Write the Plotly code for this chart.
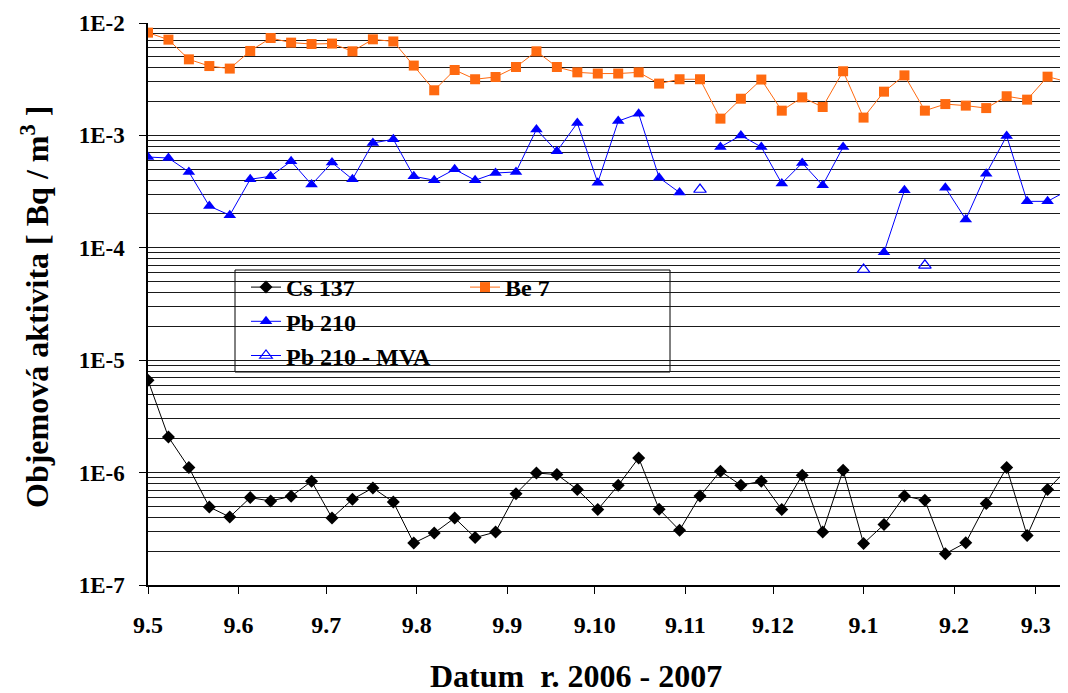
import plotly.graph_objects as go

# ---- data ----
dates = [
    "2006-05-09", "2006-05-16", "2006-05-23", "2006-05-30",
    "2006-06-06", "2006-06-13", "2006-06-20", "2006-06-27",
    "2006-07-04", "2006-07-11", "2006-07-18", "2006-07-25",
    "2006-08-01", "2006-08-08", "2006-08-15", "2006-08-22", "2006-08-29",
    "2006-09-05", "2006-09-12", "2006-09-19", "2006-09-26",
    "2006-10-03", "2006-10-10", "2006-10-17", "2006-10-24", "2006-10-31",
    "2006-11-07", "2006-11-14", "2006-11-21", "2006-11-28",
    "2006-12-05", "2006-12-12", "2006-12-19", "2006-12-26",
    "2007-01-02", "2007-01-09", "2007-01-16", "2007-01-23", "2007-01-30",
    "2007-02-06", "2007-02-13", "2007-02-20", "2007-02-27",
    "2007-03-06", "2007-03-13", "2007-03-20",
]

cs137 = [
    6.63e-6, 2.07e-6, 1.11e-6, 4.94e-7, 4.03e-7, 5.99e-7, 5.59e-7, 6.15e-7,
    8.37e-7, 3.95e-7, 5.79e-7, 7.30e-7, 5.47e-7, 2.36e-7, 2.90e-7, 3.95e-7,
    2.64e-7, 2.96e-7, 6.50e-7, 9.92e-7, 9.60e-7, 7.06e-7, 4.69e-7, 7.71e-7,
    1.35e-6, 4.72e-7, 3.07e-7, 6.19e-7, 1.03e-6, 7.71e-7, 8.37e-7, 4.69e-7,
    9.46e-7, 2.96e-7, 1.05e-6, 2.34e-7, 3.45e-7, 6.19e-7, 5.67e-7, 1.90e-7,
    2.38e-7, 5.30e-7, 1.11e-6, 2.75e-7, 7.06e-7, 1.09e-6,
]

be7 = [
    8.21e-3, 7.11e-3, 4.75e-3, 4.14e-3, 3.93e-3, 5.64e-3, 7.35e-3, 6.69e-3,
    6.50e-3, 6.56e-3, 5.60e-3, 7.16e-3, 6.85e-3, 4.18e-3, 2.52e-3, 3.82e-3,
    3.16e-3, 3.31e-3, 4.06e-3, 5.60e-3, 4.06e-3, 3.64e-3, 3.55e-3, 3.55e-3,
    3.64e-3, 2.89e-3, 3.16e-3, 3.16e-3, 1.41e-3, 2.12e-3, 3.14e-3, 1.66e-3,
    2.18e-3, 1.79e-3, 3.72e-3, 1.44e-3, 2.45e-3, 3.42e-3, 1.66e-3, 1.90e-3,
    1.84e-3, 1.75e-3, 2.23e-3, 2.08e-3, 3.33e-3, 2.99e-3,
]

pb210 = [
    6.42e-4, 6.29e-4, 4.73e-4, 2.35e-4, 1.95e-4, 4.07e-4, 4.33e-4, 5.89e-4,
    3.65e-4, 5.73e-4, 4.07e-4, 8.56e-4, 9.23e-4, 4.33e-4, 3.99e-4, 4.99e-4,
    3.99e-4, 4.63e-4, 4.73e-4, 1.13e-3, 7.22e-4, 1.29e-3, 3.80e-4, 1.34e-3,
    1.56e-3, 4.21e-4, 3.10e-4, None, 7.88e-4, 1.00e-3, 7.88e-4, 3.73e-4,
    5.68e-4, 3.60e-4, 7.88e-4, None, 9.12e-5, 3.25e-4, None, 3.43e-4,
    1.79e-4, 4.57e-4, 9.88e-4, 2.59e-4, 2.59e-4, 3.25e-4,
]

pb210_mva = [None] * 27 + [3.30e-4] + [None] * 7 + [6.41e-5] + [None, None] + [6.99e-5] + [None] * 7

cs137_mva = []  # no values plotted, legend only

tick_dates = ["2006-05-09", "2006-06-09", "2006-07-09", "2006-08-09", "2006-09-09",
              "2006-10-09", "2006-11-09", "2006-12-09", "2007-01-09", "2007-02-09",
              "2007-03-09"]
tick_labels = ["9.5", "9.6", "9.7", "9.8", "9.9", "9.10", "9.11", "9.12", "9.1", "9.2", "9.3"]

y_tickvals = [1e-7, 1e-6, 1e-5, 1e-4, 1e-3, 1e-2]
y_ticklabels = ["1E-7", "1E-6", "1E-5", "1E-4", "1E-3", "1E-2"]

# ---- styling ----
SERIF = "Liberation Serif"
ORANGE = "#FF6A10"
BLUE = "#0000FF"
GRID = "#1a1a1a"

fig = go.Figure()

fig.add_trace(go.Scatter(
    x=dates, y=cs137, name="Cs 137", mode="lines+markers", legend="legend",
    legendgroup="a",
    line=dict(color="black", width=1),
    marker=dict(symbol="diamond", size=10, color="black"),
))
fig.add_trace(go.Scatter(
    x=dates, y=pb210, name="Pb 210", mode="lines+markers", legend="legend",
    legendgroup="b",
    line=dict(color=BLUE, width=1), connectgaps=False,
    marker=dict(symbol="triangle-up", size=11, color=BLUE),
))
fig.add_trace(go.Scatter(
    x=dates, y=pb210_mva, name="Pb 210 - MVA", mode="lines+markers", legend="legend",
    legendgroup="c",
    line=dict(color=BLUE, width=1), connectgaps=False,
    marker=dict(symbol="triangle-up-open", size=11, color=BLUE, line=dict(width=1.2)),
))
fig.add_trace(go.Scatter(
    x=dates, y=be7, name="Be 7", mode="lines+markers", legend="legend2",
    legendgroup="d",
    line=dict(color=ORANGE, width=1),
    marker=dict(symbol="square", size=10, color=ORANGE),
))
fig.add_trace(go.Scatter(
    x=cs137_mva, y=cs137_mva, name="Cs 137 - MVA", mode="lines+markers", legend="legend2",
    legendgroup="e",
    line=dict(color="black", width=1),
    marker=dict(symbol="diamond-open", size=9, color="black", line=dict(width=1)),
))

# page body has an 8px margin: figure is drawn from (8, 8)
OFF = 8
W, H = 1068 - OFF, 693 - OFF
L, R, T, B = 148 - OFF, 0, 23 - OFF, 108
pw = W - L - R
ph = H - T - B

def px(xp):
    # xp: pixel in screenshot coordinates
    return (xp - OFF - L) / pw

def py(yp):
    return (H - B - (yp - OFF)) / ph

legend_common = dict(
    font=dict(family=SERIF, size=24, color="black", weight="bold"),
    bgcolor="rgba(0,0,0,0)", borderwidth=0,
    xanchor="left", yanchor="top", tracegroupgap=0,
    orientation="v",
)

fig.update_layout(
    width=W, height=H,
    margin=dict(l=L, r=R, t=T, b=B),
    paper_bgcolor="white", plot_bgcolor="white",
    font=dict(family=SERIF),
    showlegend=True,
    legend=dict(x=px(246), y=py(265), **legend_common),
    legend2=dict(x=px(465), y=py(265), **legend_common),
    xaxis=dict(
        type="date",
        range=["2006-05-09", "2007-03-20"],
        tickmode="array", tickvals=tick_dates, ticktext=tick_labels,
        ticks="outside", ticklen=7, tickwidth=1, tickcolor="black",
        showgrid=False, zeroline=False,
        showline=True, linecolor="black", linewidth=1.5,
        tickfont=dict(family=SERIF, size=24, color="black", weight="bold"),
        ticklabelstandoff=10,
    ),
    yaxis=dict(
        type="log", range=[-7, -2],
        tickmode="array", tickvals=y_tickvals, ticktext=y_ticklabels,
        ticks="outside", ticklen=7, tickwidth=1, tickcolor="black",
        showgrid=True, gridcolor=GRID, gridwidth=1.3,
        minor=dict(
            tickmode="array",
            tickvals=[m * 10.0 ** e for e in range(-7, -2) for m in range(2, 10)],
            showgrid=True, gridcolor=GRID, gridwidth=1.3, ticks="",
        ),
        showline=True, linecolor="black", linewidth=1.5,
        zeroline=False,
        tickfont=dict(family=SERIF, size=23, color="black", weight="bold"),
        ticklabelstandoff=10,
    ),
    shapes=[
        dict(type="rect", xref="paper", yref="paper",
             x0=px(235), x1=px(670), y0=py(372), y1=py(270),
             line=dict(color="black", width=1), fillcolor="white",
             layer="between"),
    ],
    annotations=[
        dict(text="Objemová aktivita [ Bq / m<sup>3</sup> ]",
             xref="paper", yref="paper", x=px(35), y=py(307),
             xanchor="center", yanchor="middle", textangle=-90,
             showarrow=False,
             font=dict(family=SERIF, size=32, color="black", weight="bold")),
        dict(text="Datum  r. 2006 - 2007",
             xref="paper", yref="paper", x=px(576), y=py(676),
             xanchor="center", yanchor="middle",
             showarrow=False,
             font=dict(family=SERIF, size=32, color="black", weight="bold")),
    ],
)

fig.write_html("out.html")
